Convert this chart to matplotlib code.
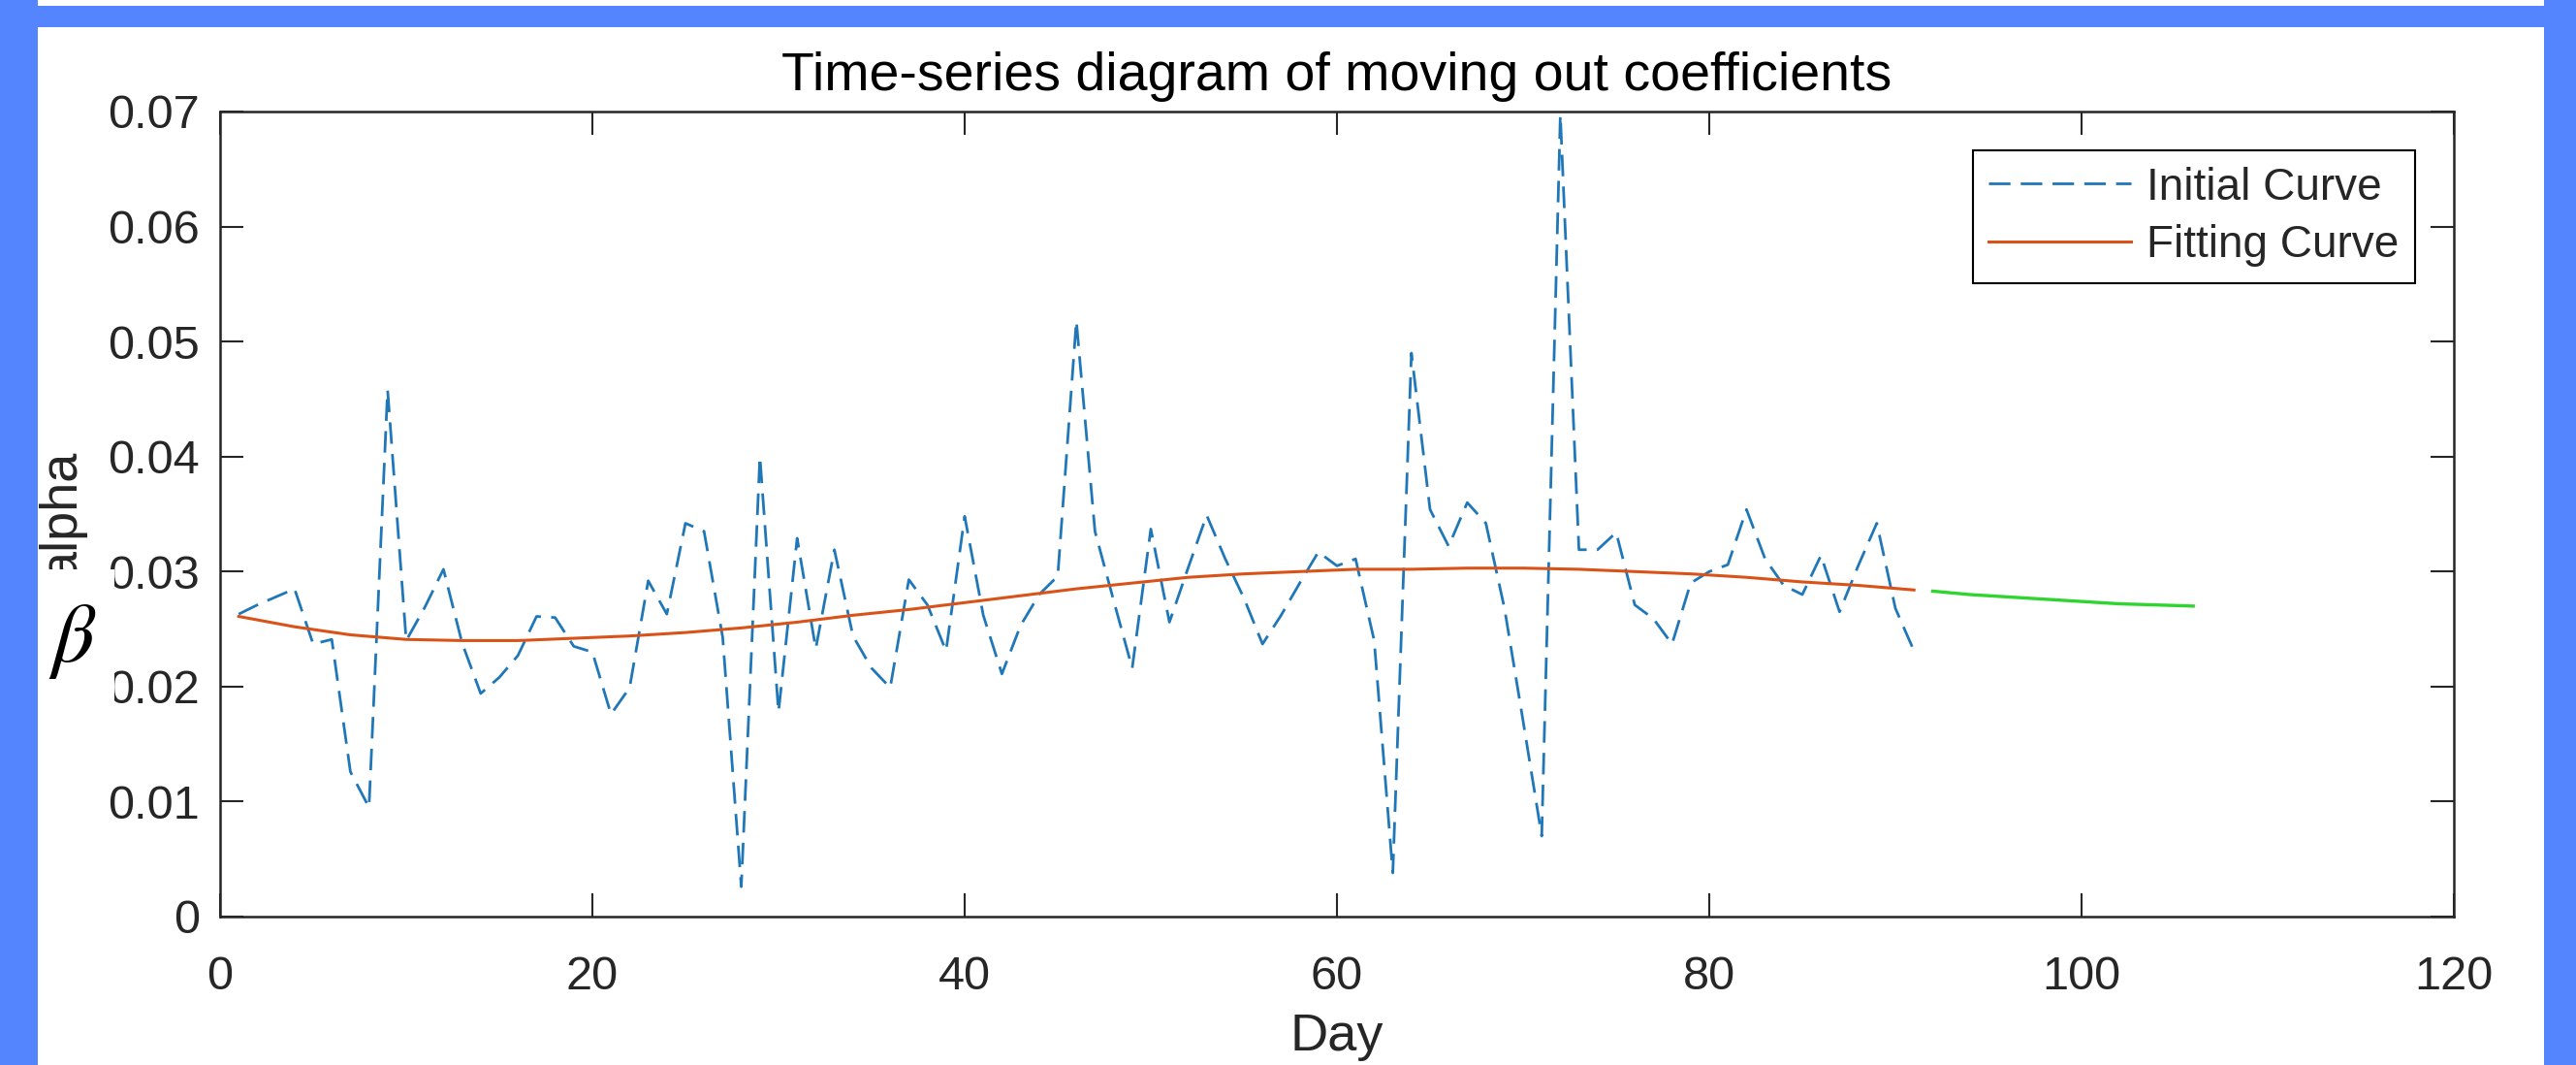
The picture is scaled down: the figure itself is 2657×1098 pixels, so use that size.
import matplotlib
matplotlib.use("Agg")
import matplotlib.pyplot as plt
from matplotlib.patches import Rectangle

# ---------------- data ----------------
days_initial = list(range(1, 92))
alpha_initial = [
    0.0263, 0.0271, 0.0278, 0.0285, 0.0237, 0.0241, 0.0126, 0.0095, 0.0458, 0.0240,
    0.0269, 0.0302, 0.0238, 0.0194, 0.0208, 0.0227, 0.0261, 0.0260, 0.0235, 0.0230,
    0.0176, 0.0199, 0.0292, 0.0263, 0.0342, 0.0335, 0.0243, 0.0026, 0.0400, 0.0178,
    0.0329, 0.0233, 0.0319, 0.0244, 0.0216, 0.0199, 0.0293, 0.0271, 0.0231, 0.0348,
    0.0262, 0.0211, 0.0253, 0.0280, 0.0296, 0.0518, 0.0335, 0.0275, 0.0216, 0.0337,
    0.0256, 0.0303, 0.0349, 0.0311, 0.0277, 0.0237, 0.0262, 0.0290, 0.0317, 0.0305,
    0.0311, 0.0240, 0.0038, 0.0490, 0.0354, 0.0322, 0.0360, 0.0342, 0.0268, 0.0170,
    0.0070, 0.0697, 0.0319, 0.0319, 0.0334, 0.0271, 0.0259, 0.0237, 0.0290, 0.0300,
    0.0306, 0.0354, 0.0311, 0.0288, 0.0280, 0.0314, 0.0265, 0.0305, 0.0342, 0.0268,
    0.0231,
]

days_fit = [1, 4, 7, 10, 13, 16, 19, 22, 25, 28, 31, 34, 37, 40, 43, 46,
            49, 52, 55, 58, 61, 64, 67, 70, 73, 76, 79, 82, 85, 88, 91]
alpha_fit = [0.0261, 0.0252, 0.0245, 0.0241, 0.0240, 0.0240, 0.0242, 0.0244,
             0.0247, 0.0251, 0.0256, 0.0262, 0.0267, 0.0273, 0.0279, 0.0285,
             0.0290, 0.0295, 0.0298, 0.0300, 0.0302, 0.0302, 0.0303, 0.0303,
             0.0302, 0.0300, 0.0298, 0.0295, 0.0291, 0.0288, 0.0284]

days_pred = [92, 94, 96, 98, 100, 102, 104, 106]
alpha_pred = [0.0283, 0.0280, 0.0278, 0.0276, 0.0274, 0.0272, 0.0271, 0.0270]

x_ticks = [0, 20, 40, 60, 80, 100, 120]
y_ticks = [0, 0.01, 0.02, 0.03, 0.04, 0.05, 0.06, 0.07]
y_tick_labels = ["0", "0.01", "0.02", "0.03", "0.04", "0.05", "0.06", "0.07"]

title_text = "Time-series diagram of moving out coefficients"
legend_labels = ["Initial Curve", "Fitting Curve"]

# ---------------- figure ----------------
W, H = 2657, 1098
plt.rcParams['font.family'] = ['Liberation Sans', 'DejaVu Sans']
fig = plt.figure(figsize=(W / 100, H / 100), dpi=100)
fig.patch.set_facecolor("white")

ax_l, ax_r, ax_t, ax_b = 227, 2531, 115, 945
ax = fig.add_axes([ax_l / W, 1 - ax_b / H, (ax_r - ax_l) / W, (ax_b - ax_t) / H])

text_col = "#262626"
blue = "#1f77b8"
orange = "#D95319"
green = "#2ED52E"

l1, = ax.plot(days_initial, alpha_initial, color=blue, lw=2.0,
              linestyle=(0, (8, 3.8)))
l2, = ax.plot(days_fit, alpha_fit, color=orange, lw=2.2)
ax.plot(days_pred, alpha_pred, color=green, lw=2.4)

ax.set_xlim(0, 120)
ax.set_ylim(0, 0.07)
ax.set_xticks(x_ticks)
ax.set_xticklabels([str(v) for v in x_ticks])
ax.set_yticks(y_ticks)
ax.set_yticklabels(y_tick_labels)

ax.tick_params(direction='in', length=17, width=1.5, top=True, right=True,
               labelsize=35, colors=text_col)
ax.tick_params(axis='x', pad=29)
ax.tick_params(axis='y', pad=15)
for s in ax.spines.values():
    s.set_linewidth(1.8)
    s.set_color(text_col)

ax.set_title(title_text, fontsize=40, color="black", pad=16)
ax.set_xlabel("Day", fontsize=39, color=text_col, va='top')
ax.xaxis.set_label_coords(0.5, (ax_b - 1044) / (ax_b - ax_t))
ax.set_ylabel("alpha", fontsize=39, color=text_col)
ax.yaxis.set_label_coords((89 - ax_l) / (ax_r - ax_l), 0.5)

leg = ax.legend([l1, l2], legend_labels, loc='upper right',
                bbox_to_anchor=((2491 - ax_l) / (ax_r - ax_l), (ax_b - 155) / (ax_b - ax_t)),
                borderaxespad=0, fontsize=33, handlelength=3.2, handletextpad=0.36,
                borderpad=0.36, labelspacing=0.34, fancybox=False, framealpha=1,
                edgecolor="black")
leg.get_frame().set_linewidth(1.5)
for t in leg.get_texts():
    t.set_color(text_col)

# white patch with beta over the y label
fig.add_artist(Rectangle((39 / W, 1 - 740 / H), (118 - 39) / W, (740 - 587) / H,
                         transform=fig.transFigure, facecolor="white",
                         edgecolor="none", zorder=5))
fig.text(50 / W, 1 - 702 / H, r"$\beta$", math_fontfamily='stix',
         fontsize=62, color="black", ha='left', va='bottom', zorder=6)

# blue frame
frame_col = "#5584FF"
fig.add_artist(Rectangle((0, 0), 39 / W, 1, transform=fig.transFigure,
                         facecolor=frame_col, edgecolor="none", zorder=10))
fig.add_artist(Rectangle((2624 / W, 0), (W - 2624) / W, 1, transform=fig.transFigure,
                         facecolor=frame_col, edgecolor="none", zorder=10))
fig.add_artist(Rectangle((0, 1 - 28 / H), 1, 22 / H, transform=fig.transFigure,
                         facecolor=frame_col, edgecolor="none", zorder=10))

fig.savefig("out.png", dpi=100)
